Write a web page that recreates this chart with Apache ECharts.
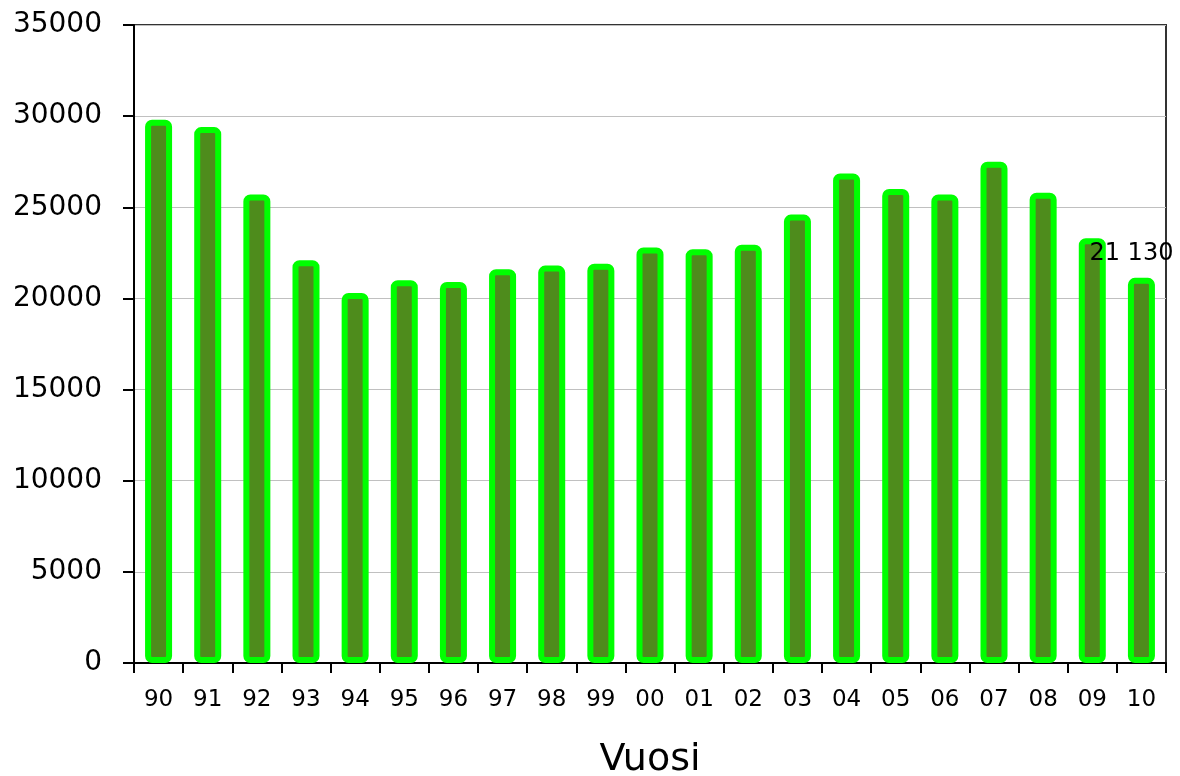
<!DOCTYPE html>
<html>
<head>
<meta charset="utf-8">
<script src="https://cdn.jsdelivr.net/npm/echarts@6/dist/echarts.min.js"></script>
<style>html,body{margin:0;padding:0;background:#fff}#c{width:1180px;height:776px}</style>
</head>
<body>
<div id="c"></div>
<script>
const categories = ['90','91','92','93','94','95','96','97','98','99','00','01','02','03','04','05','06','07','08','09','10'];
const values = [29800, 29400, 25700, 22100, 20300, 21000, 20900, 21600, 21800, 21900, 22800, 22700, 22950, 24600, 26850, 26000, 25700, 27500, 25800, 23300, 21130];
const yTicks = { min: 0, max: 35000, interval: 5000 };
const axisTitle = 'Vuosi';
const lastLabel = '21 130';

const chart = echarts.init(document.getElementById('c'));
const font = 'DejaVu Sans, Verdana, sans-serif';
chart.setOption({
  animation: false,
  grid: { left: 134, right: 14, top: 25, bottom: 113, show: true, borderColor: '#333', borderWidth: 2, containLabel: false, outerBoundsMode: 'none' },
  xAxis: {
    type: 'category',
    data: categories,
    boundaryGap: true,
    name: axisTitle,
    nameLocation: 'middle',
    nameGap: 78,
    nameTextStyle: { fontFamily: font, fontSize: 38, color: '#000' },
    axisLine: { lineStyle: { color: '#000', width: 2 } },
    axisTick: { show: true, alignWithLabel: false, length: 10, lineStyle: { color: '#000', width: 2 } },
    axisLabel: { fontFamily: font, fontSize: 23, color: '#000', margin: 26 },
    splitLine: { show: false }
  },
  yAxis: {
    type: 'value',
    min: yTicks.min, max: yTicks.max, interval: yTicks.interval,
    axisLine: { show: true, lineStyle: { color: '#000', width: 2 } },
    axisTick: { show: true, length: 11, lineStyle: { color: '#000', width: 2 } },
    axisLabel: { fontFamily: font, fontSize: 28, color: '#000', margin: 32, formatter: v => String(v) },
    splitLine: { show: true, lineStyle: { color: '#c0c0c0', width: 1 } }
  },
  series: [{
    type: 'bar',
    data: values.map((v, i) => i === values.length - 1 ? {
      value: v,
      label: { show: true, position: 'top', distance: 12, offset: [-10, 0], formatter: lastLabel, fontFamily: font, fontSize: 24, color: '#000' }
    } : v),
    barWidth: 27,
    itemStyle: { color: '#4e8c1c', borderColor: '#00ff00', borderWidth: 6, borderRadius: 4 }
  }]
});
</script>
</body>
</html>
